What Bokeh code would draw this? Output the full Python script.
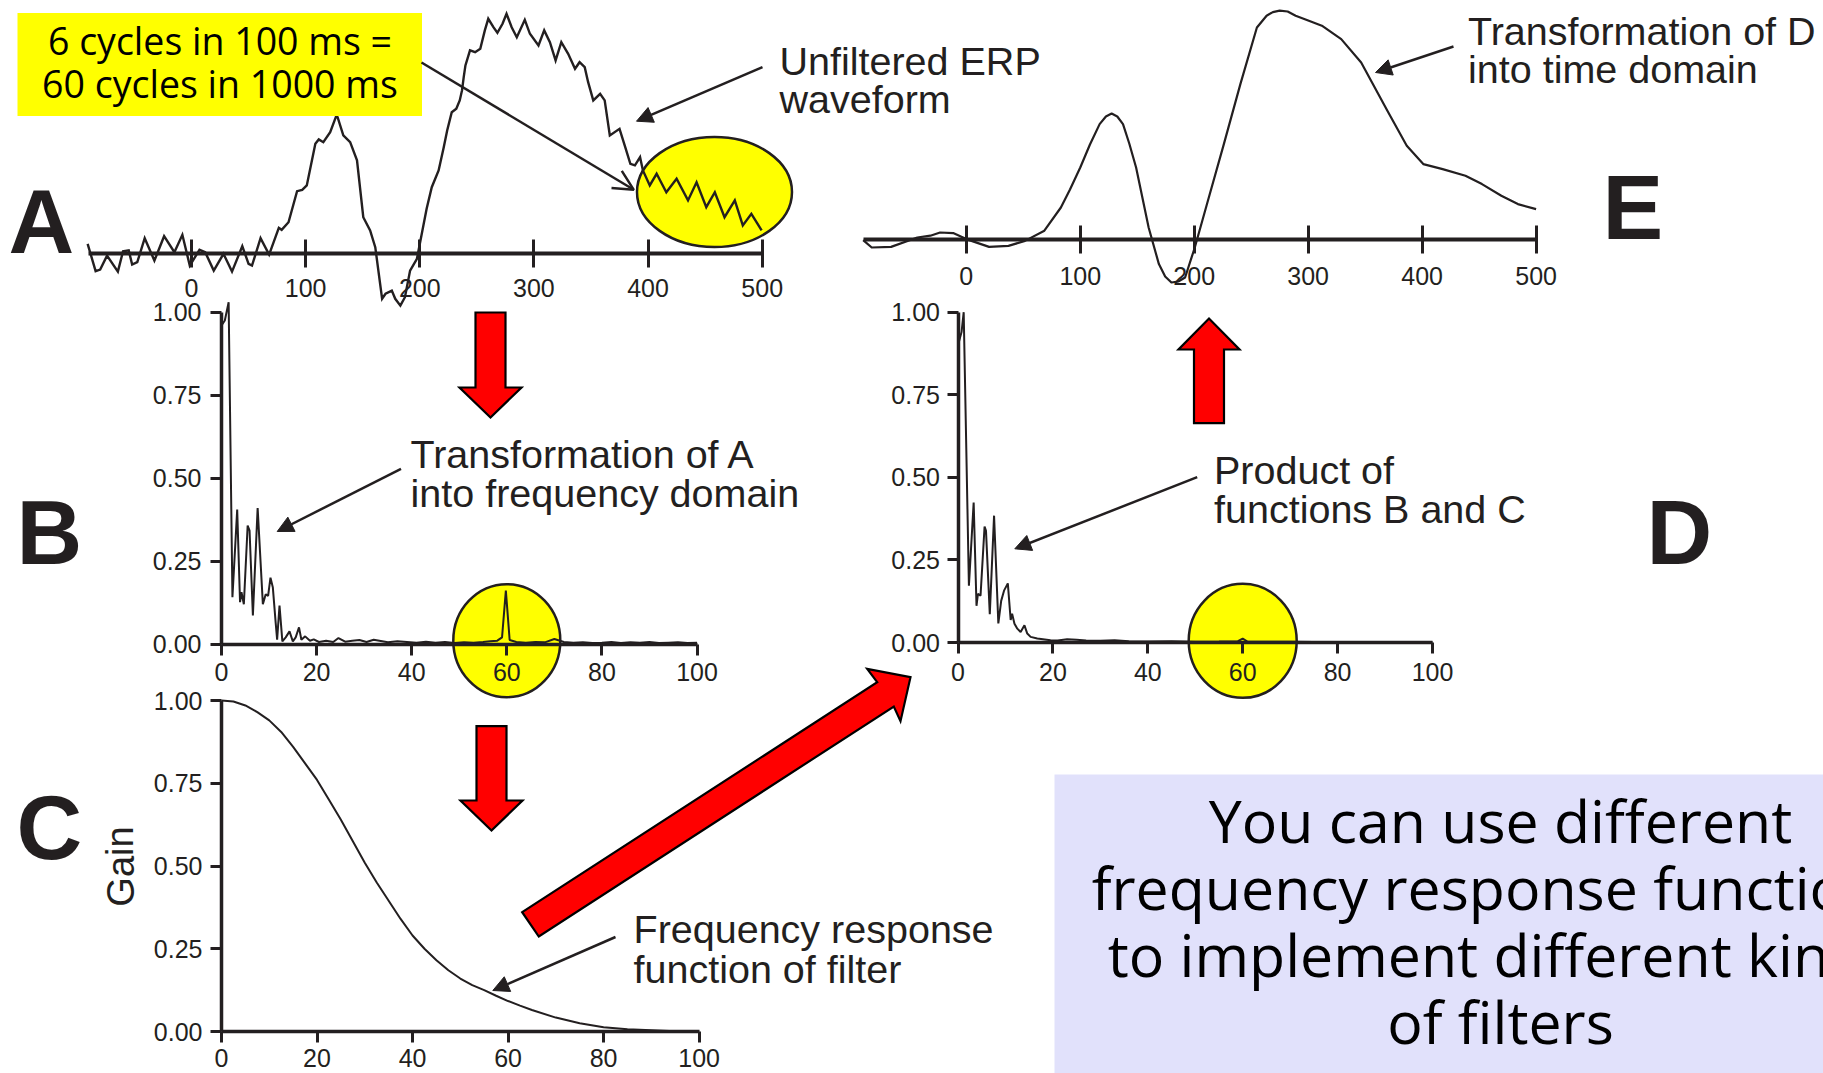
from bokeh.plotting import figure
from bokeh.models import (Range1d, LinearAxis, FixedTicker, NumeralTickFormatter,
                          BasicTickFormatter, ColumnDataSource, Arrow, NormalHead, OpenHead)
from bokeh.core.properties import value
from bokeh.embed import file_html
from bokeh.resources import INLINE

W, H = 1823, 1073
INK = "#231f20"
RED = "#ff0000"
YELLOW = "#ffff00"
LAVENDER = "#e1e1fb"

# ---------------------------------------------------------------- data
# A: unfiltered ERP waveform (ms, amplitude units)
erp_time = [-91, -84, -80, -74, -64.5, -60, -55, -52, -47.5, -41,
            -32.5, -24, -15, -8, -1.5, 7, 12, 19.5, 28, 35.5,
            44.5, 50, 53, 60.5, 68, 76.5, 79, 85, 92.5, 97,
            101, 108.5, 111.5, 115.5, 121.5, 127, 128, 133, 139, 145,
            150.5, 156.5, 161, 167, 170, 175.5, 178.5, 183, 187, 191.5,
            197.5, 206, 210.5, 216.5, 221, 224, 228, 232, 235, 237,
            238.5, 240, 244, 248.5, 253, 257, 260, 264.5, 268, 272.5,
            276, 280.5, 285, 292, 296.5, 304, 309, 314, 319, 324,
            330, 336, 340, 344.5, 347.5, 352, 358, 362, 366.5, 375,
            380, 384.5, 388.5, 393, 395.5, 401.5, 407.5, 416, 425, 435,
            442.5, 451, 458.5, 467, 476, 483, 490.5, 499.5]
erp_raw = [0.50, -0.87, -0.79, -0.09, -0.89, 0.12, 0.17, -0.54, -0.42, 0.78,
           -0.34, 0.88, 0.08, 0.95, -0.59, 0.20, 0.08, -0.84, 0.00, -0.89,
           0.38, -0.50, -0.59, 0.78, -0.04, 1.30, 1.20, 1.58, 3.13, 3.20,
           3.42, 5.50, 5.72, 5.58, 6.08, 6.92, 6.83, 5.92, 5.58, 4.67,
           1.83, 1.17, 0.33, -2.25, -2.00, -1.84, -2.25, -2.59, -2.17, -0.84,
           -0.25, 2.25, 3.33, 4.17, 5.33, 6.17, 7.08, 7.25, 7.67, 8.17,
           8.83, 9.42, 10.17, 10.08, 10.25, 11.17, 11.75, 11.33, 11.05, 11.50,
           12.00, 11.33, 10.83, 11.70, 11.00, 10.42, 11.17, 10.58, 9.67, 10.58,
           10.00, 9.25, 9.58, 9.33, 8.58, 7.67, 8.00, 7.67, 5.92, 6.25,
           5.33, 4.50, 4.42, 4.83, 4.17, 3.42, 4.00, 3.08, 3.75, 2.67,
           3.58, 2.33, 3.08, 1.83, 2.67, 1.42, 2.00, 1.17]

# E: filtered waveform back in the time domain
filt_time = [-90.5, -83, -66, -43, -31.5, -23, -11.5, 0, 20, 37,
             51.5, 68.5, 83, 91, 100, 108.5, 117, 122.5, 127.5, 132.5,
             137.5, 143, 149, 154.5, 160, 169, 174.5, 180, 186, 192,
             200.5, 212, 226, 240.5, 255, 263.5, 269, 275, 282, 289,
             300, 312, 329, 346.5, 369.5, 386.5, 401, 418, 438, 452.5,
             469.5, 484, 500]
filt_amp = [-0.03, -0.40, -0.37, 0.10, 0.19, 0.35, 0.32, 0.02, -0.37, -0.32,
            -0.07, 0.44, 1.60, 2.50, 3.60, 4.75, 5.77, 6.15, 6.30, 6.15,
            5.77, 4.80, 3.60, 2.10, 0.60, -1.23, -1.85, -2.15, -2.10, -1.90,
            -0.40, 1.94, 4.77, 7.77, 10.60, 11.19, 11.37, 11.44, 11.40, 11.19,
            10.95, 10.69, 10.02, 8.85, 6.44, 4.69, 3.77, 3.52, 3.19, 2.77,
            2.19, 1.77, 1.52]

# B: amplitude spectrum of A (Hz, normalised amplitude)
spec_freq = [0, 0.7, 1.5, 2.3, 3.3, 3.9, 4.2, 4.7, 5.5, 5.9,
             6.6, 7.6, 8.7, 9.3, 9.8, 10.3, 10.8, 11.4, 11.7, 12.2,
             12.8, 13.5, 14.3, 15.0, 15.6, 16.3, 16.8, 17.6, 18.6, 19.4,
             20.5, 22, 23.5, 24.6, 26, 27.5, 29, 30.5, 32, 33.5,
             35, 37, 39, 41, 43, 45, 47, 49, 51, 53,
             55, 56.5, 58, 59, 59.8, 60.6, 62, 64, 66, 68,
             70, 72, 74, 76, 78, 80, 82, 84, 86, 88,
             90, 92, 94, 96, 98, 100]
spec_amp = [0.96, 0.975, 1.03, 0.141, 0.405, 0.126, 0.156, 0.12, 0.357, 0.342,
            0.086, 0.41, 0.12, 0.15, 0.145, 0.2, 0.17, 0.063, 0.013, 0.116,
            0.008, 0.02, 0.038, 0.008, 0.02, 0.05, 0.013, 0.023, 0.01, 0.014,
            0.006, 0.01, 0.006, 0.018, 0.007, 0.01, 0.012, 0.006, 0.013, 0.009,
            0.005, 0.008, 0.006, 0.004, 0.007, 0.004, 0.006, 0.003, 0.005, 0.004,
            0.006, 0.008, 0.01, 0.02, 0.161, 0.012, 0.006, 0.004, 0.006, 0.005,
            0.015, 0.006, 0.004, 0.005, 0.003, 0.004, 0.006, 0.003, 0.005, 0.004,
            0.006, 0.003, 0.004, 0.005, 0.003, 0.004]

# C: frequency response (gain) of the low-pass filter
gain_freq = [0, 2.5, 5, 7.5, 10, 12.5, 15, 17.5, 20, 22.5,
             25, 27.5, 30, 32.5, 35, 37.5, 40, 42.5, 45, 47.5,
             50, 52.5, 55, 57.5, 60, 62.5, 65, 70, 75, 80,
             85, 90, 95, 100]
gain_val = [1.0, 0.997, 0.985, 0.965, 0.94, 0.905, 0.86, 0.81, 0.76, 0.70,
            0.64, 0.575, 0.51, 0.45, 0.395, 0.34, 0.29, 0.25, 0.215, 0.185,
            0.16, 0.14, 0.125, 0.108, 0.092, 0.078, 0.065, 0.042, 0.025, 0.013,
            0.007, 0.004, 0.001, 0.0]

# D: product of B and C
prod_freq = [0, 0.75, 1.2, 2.3, 3.3, 3.9, 4.2, 4.75, 5.6, 5.9,
             6.7, 7.6, 8.5, 9.1, 9.7, 10.5, 11.1, 11.4, 11.9, 12.5,
             13.2, 14.0, 14.6, 15.3, 16.7, 19.5, 21, 23, 25, 27,
             30, 33, 36, 40, 45, 50, 55, 59, 60, 61,
             65, 70, 80, 90, 100]
prod_amp = [0.9, 0.94, 1.0, 0.172, 0.424, 0.111, 0.147, 0.142, 0.351, 0.338,
            0.086, 0.384, 0.058, 0.126, 0.157, 0.179, 0.068, 0.087, 0.057, 0.042,
            0.032, 0.052, 0.027, 0.017, 0.012, 0.007, 0.006, 0.01, 0.008, 0.006,
            0.005, 0.007, 0.004, 0.003, 0.004, 0.002, 0.003, 0.004, 0.012, 0.003,
            0.002, 0.002, 0.001, 0.001, 0.001]

time_ticks = [0, 100, 200, 300, 400, 500]
freq_ticks = [0, 20, 40, 60, 80, 100]
gain_ticks = [0, 0.25, 0.5, 0.75, 1.0]

# ---------------------------------------------------------------- canvas
# The page is one canvas measured in pixels (y grows downwards); every panel
# gets its own pair of ranges, pinned so that two reference values land on
# the wanted pixels.
p = figure(width=W, height=H, x_range=Range1d(0, W), y_range=Range1d(H, 0),
           x_axis_type=None, y_axis_type=None, output_backend="svg",
           toolbar_location=None, min_border=0)
p.outline_line_color = None
p.background_fill_color = "white"
p.border_fill_color = "white"


def x_span(pix0, val0, pix1, val1):
    k = (val1 - val0) / (pix1 - pix0)
    return Range1d(start=val0 - pix0 * k, end=val0 + (W - pix0) * k)


def y_span(pix0, val0, pix1, val1):
    k = (val1 - val0) / (pix1 - pix0)
    return Range1d(start=val0 + (H - pix0) * k, end=val0 - pix0 * k)


p.extra_x_ranges = {
    "ax": x_span(191.0, 0, 761.7, 500),
    "ex": x_span(965.8, 0, 1535.6, 500),
    "bx": x_span(221.0, 0, 696.5, 100),
    "cx": x_span(221.0, 0, 698.6, 100),
    "dx": x_span(957.5, 0, 1432.0, 100),
}
p.extra_y_ranges = {
    "ay": y_span(253.3, 0, 53.3, 10),
    "ey": y_span(239.0, 0, 39.0, 10),
    "by": y_span(643.5, 0, 311.7, 1),
    "cy": y_span(1031.0, 0, 700.0, 1),
    "dy": y_span(642.0, 0, 311.7, 1),
}

LABEL_FONT = "'Liberation Sans', Arial, Helvetica, sans-serif"


def axis(side, xr, yr, loc, ticks, bounds, t_in, t_out, width, standoff, fmt=None):
    ax = LinearAxis(x_range_name=xr, y_range_name=yr, fixed_location=loc,
                    ticker=FixedTicker(ticks=ticks, minor_ticks=[]), bounds=bounds,
                    axis_line_color=INK, axis_line_width=width,
                    major_tick_line_color=INK, major_tick_line_width=3,
                    major_tick_in=t_in, major_tick_out=t_out,
                    minor_tick_line_color=None, minor_tick_in=0, minor_tick_out=0,
                    major_label_text_font=LABEL_FONT,
                    major_label_text_font_size="25px",
                    major_label_text_color=INK,
                    major_label_standoff=standoff)
    ax.formatter = NumeralTickFormatter(format=fmt) if fmt else BasicTickFormatter()
    p.add_layout(ax, side)
    return ax


# time axes of A and E (ticks cross the line)
axis("below", "ax", "ay", 0, time_ticks, (-90, 500), 14, 14, 4, 11)
axis("below", "ex", "ey", 0, time_ticks, (-90.5, 500), 14, 14, 4, 13)
# frequency / gain axes of B, C, D
for xr, yr, so_x, so_y in (("bx", "by", 8, 9), ("cx", "cy", 6, 8), ("dx", "dy", 9, 7)):
    axis("below", xr, yr, 0, freq_ticks, (0, 100), 0, 11, 3.5, so_x)
    axis("left", xr, yr, 0, gain_ticks, (0, 1), 0, 11, 3.5, so_y, "0.00")

# yellow highlight discs (behind the traces and axes)
disc = dict(fill_color=YELLOW, line_color=INK, line_width=2.5, level="underlay",
            width_units="screen", height_units="screen")
p.ellipse(x=[458.2], y=[3.09], width=155, height=110,
          x_range_name="ax", y_range_name="ay", **disc)
p.ellipse(x=[60], y=[0.01], width=107, height=113,
          x_range_name="bx", y_range_name="by", **disc)
p.ellipse(x=[60], y=[0.005], width=108, height=114,
          x_range_name="dx", y_range_name="dy", **disc)

# traces
p.line(erp_time, erp_raw, x_range_name="ax", y_range_name="ay",
       line_color=INK, line_width=2.4, line_join="miter")
p.line(filt_time, filt_amp, x_range_name="ex", y_range_name="ey",
       line_color=INK, line_width=2.2, line_join="round")
p.line(spec_freq, spec_amp, x_range_name="bx", y_range_name="by",
       line_color=INK, line_width=2.0)
p.line(gain_freq, gain_val, x_range_name="cx", y_range_name="cy",
       line_color=INK, line_width=2.0, line_join="round")
p.line(prod_freq, prod_amp, x_range_name="dx", y_range_name="dy",
       line_color=INK, line_width=2.0)

# boxes
p.quad(left=[17], right=[421.5], top=[12.5], bottom=[115.5],
       fill_color=YELLOW, line_color=None)
p.quad(left=[1054], right=[W + 10], top=[774], bottom=[H + 10],
       fill_color=LAVENDER, line_color=None)

# red block arrows (pixel geometry)
block_xs = [
    [475, 505, 505, 521, 490, 459, 475],
    [476, 506, 506, 522, 491, 460, 476],
    [1193.5, 1223.5, 1223.5, 1239, 1208.5, 1178, 1193.5],
    [521.7, 876.7, 866.7, 910, 900, 893.3, 538.3],
]
block_ys = [
    [312, 312, 387, 387, 417, 387, 387],
    [725.7, 725.7, 800, 800, 830, 800, 800],
    [422.7, 422.7, 349, 349, 318, 349, 349],
    [911.7, 681.7, 668.3, 676.7, 720.7, 706, 936],
]
p.patches(block_xs, block_ys, fill_color=RED, line_color="black", line_width=2.2,
          line_join="miter")

# pointer arrows
def pointer(x0, y0, x1, y1, head):
    p.add_layout(Arrow(end=head, x_start=x0, y_start=y0, x_end=x1, y_end=y1,
                       line_color=INK, line_width=2.5))


pointer(421, 62, 633.3, 189.3, OpenHead(size=20, line_color=INK, line_width=2.5))
for x0, y0, x1, y1 in ((762, 66.7, 636, 120.7), (1453, 46, 1375, 72),
                       (400.5, 468.3, 276.7, 531), (1196.7, 476.7, 1014.3, 548.3),
                       (615, 936.5, 492.3, 990)):
    pointer(x0, y0, x1, y1, NormalHead(size=16, fill_color=INK, line_color=INK))

# annotation texts (y values are the text anchors)
notes = ColumnDataSource(dict(
    x=[779, 779, 1467.5, 1467.5, 410, 410, 1213.5, 1213.5, 633, 633],
    y=[60.3, 98.5, 30.5, 68.5, 453.3, 492, 469.5, 508.3, 928.5, 968.5],
    text=["Unfiltered ERP", "waveform", "Transformation of D", "into time domain",
          "Transformation of A", "into frequency domain", "Product of",
          "functions B and C", "Frequency response", "function of filter"]))
p.text(x="x", y="y", text="text", source=notes, text_font=value(LABEL_FONT),
       text_font_size=value("39.5px"), text_color=INK, text_align="left",
       text_baseline="alphabetic")

# panel letters
letters = ColumnDataSource(dict(
    x=[8, 16, 16, 1646, 1602], y=[221.4, 532, 827, 532, 207],
    text=["A", "B", "C", "D", "E"]))
p.text(x="x", y="y", text="text", source=letters, text_font=value(LABEL_FONT),
       text_font_size=value("91px"), text_font_style="bold", text_color=INK,
       text_align="left", text_baseline="alphabetic")

# y-axis title of C
p.text(x=[120], y=[866], text=["Gain"], angle=1.5708, text_font=value(LABEL_FONT),
       text_font_size=value("38px"), text_color=INK, text_align="center",
       text_baseline="middle")

# callout texts
BOX_FONT = "'Open Sans', 'Noto Sans', sans-serif"
p.text(x=[219.5, 219.5], y=[39.8, 82.8], text=["6 cycles in 100 ms =", "60 cycles in 1000 ms"],
       text_font=value(BOX_FONT), text_font_size=value("37.5px"), text_color="black",
       text_align="center", text_baseline="alphabetic")
p.text(x=[1500] * 4, y=[819.6, 886.6, 953.6, 1020.6],
       text=["You can use different", "frequency response functions",
             "to implement different kinds", "of filters"],
       text_font=value(BOX_FONT), text_font_size=value("59px"), text_color="black",
       text_align="center", text_baseline="alphabetic")

open("out.html", "w").write(file_html(p, INLINE))
